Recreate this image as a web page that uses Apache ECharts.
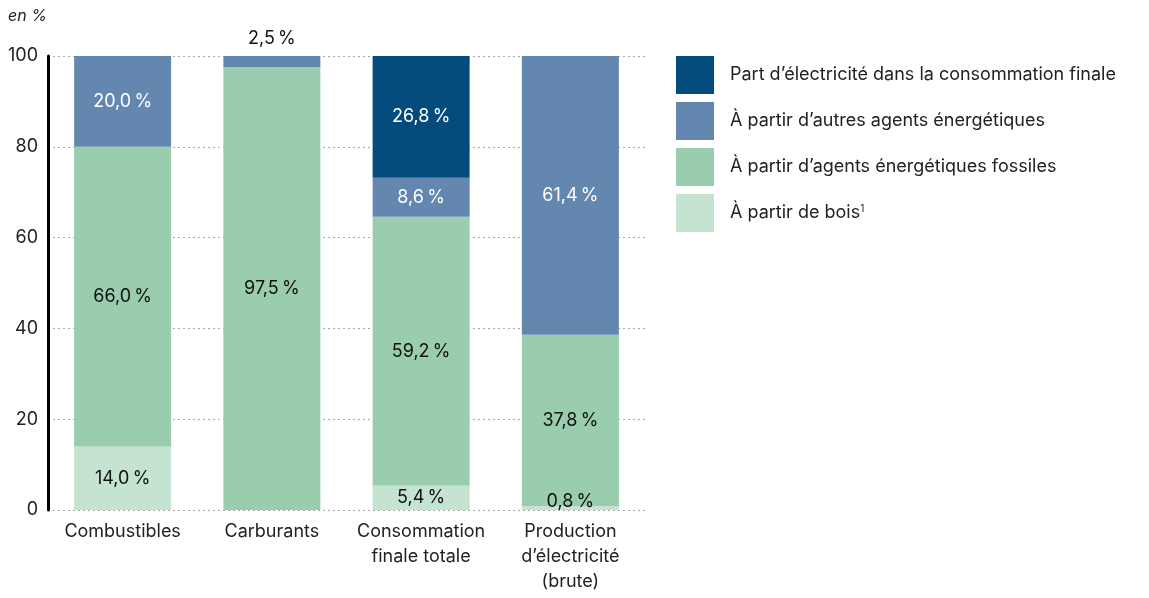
<!DOCTYPE html>
<html><head><meta charset="utf-8">
<script src="https://cdn.jsdelivr.net/npm/echarts@6/dist/echarts.min.js"></script>
<style>html,body{margin:0;padding:0;background:#fff}#c{width:1149px;height:598px}</style>
</head><body><div id="c"></div>
<script>
const categories = ['Combustibles', 'Carburants', 'Consommation\nfinale totale', 'Production\nd\u2019électricité\n(brute)'];
const bois = [14.0, null, 5.4, 0.8];
const fossiles = [66.0, 97.5, 59.2, 37.8];
const autres = [20.0, 2.5, 8.6, 61.4];
const electricite = [null, null, 26.8, null];
const seriesNames = ['Part d\u2019électricité dans la consommation finale', 'À partir d\u2019autres agents énergétiques', 'À partir d\u2019agents énergétiques fossiles', 'À partir de bois'];
const yTicks = [0, 20, 40, 60, 80, 100];

const FONT = 'Inter';
const FS = 18;
const fmt = v => v.toFixed(1).replace('.', ',') + '\u202f%';
const chart = echarts.init(document.getElementById('c'), null, {renderer: 'canvas'});

function mkLabel(color) {
  return {show: true, position: 'inside', color: color, fontFamily: FONT, fontSize: FS,
    formatter: p => p.value == null ? '' : fmt(p.value)};
}
function mkData(arr, specials) {
  return arr.map((v, i) => {
    if (specials && specials[i]) return {value: v, label: specials[i]};
    return v;
  });
}
const barW = 97;
chart.setOption({
  animation: false,
  textStyle: {fontFamily: FONT},
  graphic: [{type: 'text', left: 8, top: 8, style: {text: 'en %', font: 'italic 16px ' + FONT, fill: '#222'}}],
  grid: {left: 48, right: 504, top: 56, bottom: 88, containLabel: false},
  legend: {
    orient: 'vertical', left: 676, top: 56, padding: 0, itemWidth: 38, itemHeight: 38, itemGap: 8,
    icon: 'rect', data: seriesNames,
    textStyle: {fontFamily: FONT, fontSize: FS, color: '#222', padding: [0, 0, 0, 11],
      rich: {sup: {fontSize: 10, verticalAlign: 'top', padding: [0, 0, 8, 0], color: '#222'}}},
    formatter: n => n === seriesNames[3] ? n + '{sup|1}' : n
  },
  xAxis: {
    type: 'category', data: categories,
    axisLine: {show: false}, axisTick: {show: false},
    axisLabel: {fontFamily: FONT, fontSize: FS, color: '#222', margin: 9, lineHeight: 25, interval: 0}
  },
  yAxis: {
    type: 'value', min: 0, max: 100, interval: 20,
    axisLine: {show: true, lineStyle: {color: '#000', width: 3}},
    axisTick: {show: false},
    axisLabel: {fontFamily: FONT, fontSize: FS, color: '#222', margin: 10,
      formatter: v => yTicks.includes(v) ? String(v) : ''},
    splitLine: {show: true, lineStyle: {color: '#aaa', type: [2, 3], width: 1}}
  },
  series: [
    {name: seriesNames[3], type: 'bar', stack: 's', barWidth: barW, itemStyle: {color: '#c5e3d1'},
      data: mkData(bois, {3: {show: true, position: 'top', distance: -4, color: '#111', fontFamily: FONT, fontSize: FS, formatter: p => fmt(p.value)}}),
      label: mkLabel('#111')},
    {name: seriesNames[2], type: 'bar', stack: 's', barWidth: barW, itemStyle: {color: '#99cdae'},
      data: fossiles, label: mkLabel('#111')},
    {name: seriesNames[1], type: 'bar', stack: 's', barWidth: barW, itemStyle: {color: '#6487b0'},
      data: mkData(autres, {1: {show: true, position: 'top', distance: 8, color: '#111', fontFamily: FONT, fontSize: FS, formatter: p => fmt(p.value)}}),
      label: mkLabel('#fff')},
    {name: seriesNames[0], type: 'bar', stack: 's', barWidth: barW, itemStyle: {color: '#034b7c'},
      data: electricite, label: mkLabel('#fff')}
  ]
});
</script></body></html>
